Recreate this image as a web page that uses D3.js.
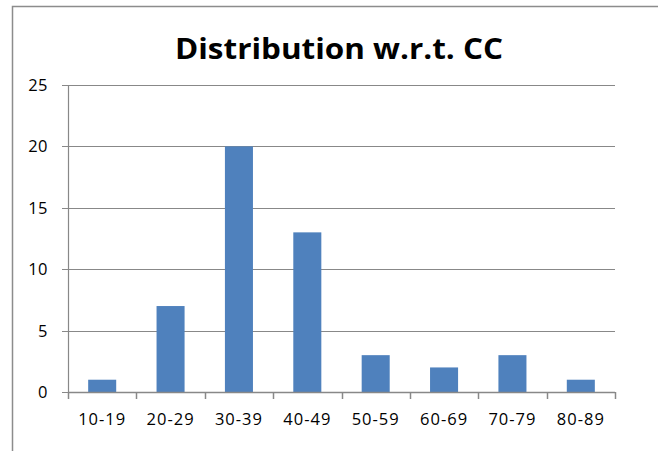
<html>

<head>
    <style>
        body { margin: 0; background: white; }
        text { font-family: "Open Sans", sans-serif; fill: black; }
    </style>
</head>

<body>
    <svg id="container" height="451" width="658"></svg>
</body>
<script src="https://cdn.jsdelivr.net/npm/d3@7"></script>
<script>
    let categories = ["10-19", "20-29", "30-39", "40-49", "50-59", "60-69", "70-79", "80-89"]
    let counts = [1, 7, 20, 13, 3, 2, 3, 1]
    let yTicks = [0, 5, 10, 15, 20, 25]
    let title = "Distribution w.r.t. CC"

    let svg = d3.select("#container")

    // outer chart border (runs off the right and bottom edges)
    svg.append("rect")
        .attr("x", 12.5).attr("y", 6.5)
        .attr("width", 700).attr("height", 500)
        .attr("fill", "none")
        .attr("stroke", "#8c8c8c")
        .attr("stroke-width", 1.5)

    let plotLeft = 68, plotRight = 615, plotTop = 85, plotBottom = 392

    let x = d3.scaleBand()
        .domain(categories)
        .range([plotLeft, plotRight])
        .paddingInner(0.59)
        .paddingOuter(0.295)

    let y = d3.scaleLinear()
        .domain([0, 25])
        .range([plotBottom, plotTop])

    // gridlines
    svg.append("g")
        .selectAll("line")
        .data(yTicks)
        .enter()
        .append("line")
        .attr("x1", plotLeft - 6)
        .attr("x2", plotRight)
        .attr("y1", d => Math.round(y(d)) + 0.5)
        .attr("y2", d => Math.round(y(d)) + 0.5)
        .attr("stroke", "#888888")
        .attr("stroke-width", 1.2)

    // bars
    svg.append("g")
        .selectAll("rect")
        .data(counts)
        .enter()
        .append("rect")
        .attr("x", (d, i) => x(categories[i]))
        .attr("width", x.bandwidth())
        .attr("y", d => y(d))
        .attr("height", d => y(0) - y(d))
        .attr("fill", "#4f81bd")

    // y axis line
    svg.append("line")
        .attr("x1", plotLeft + 0.5).attr("x2", plotLeft + 0.5)
        .attr("y1", plotTop).attr("y2", plotBottom)
        .attr("stroke", "#888888")
        .attr("stroke-width", 1.2)

    // x axis with tick marks between categories
    let step = (plotRight - plotLeft) / categories.length
    let xTickPos = d3.range(categories.length + 1).map(i => plotLeft + i * step)
    svg.append("line")
        .attr("x1", plotLeft).attr("x2", plotRight)
        .attr("y1", plotBottom + 0.5).attr("y2", plotBottom + 0.5)
        .attr("stroke", "#888888")
        .attr("stroke-width", 1.5)
    svg.append("g")
        .selectAll("line")
        .data(xTickPos)
        .enter()
        .append("line")
        .attr("x1", d => Math.round(d) + 0.5)
        .attr("x2", d => Math.round(d) + 0.5)
        .attr("y1", plotBottom)
        .attr("y2", plotBottom + 7)
        .attr("stroke", "#888888")
        .attr("stroke-width", 1.5)

    // y labels
    svg.append("g")
        .selectAll("text")
        .data(yTicks)
        .enter()
        .append("text")
        .attr("x", 48)
        .attr("y", d => y(d) + 6)
        .attr("text-anchor", "end")
        .style("font-size", "16.5px")
        .style("letter-spacing", "0.5px")
        .text(d => d)

    // x labels
    svg.append("g")
        .selectAll("text")
        .data(categories)
        .enter()
        .append("text")
        .attr("x", d => x(d) + x.bandwidth() / 2)
        .attr("y", 425)
        .attr("text-anchor", "middle")
        .style("font-size", "16.5px")
        .style("letter-spacing", "1px")
        .text(d => d)

    // title
    svg.append("text")
        .attr("x", 339)
        .attr("y", 59)
        .attr("text-anchor", "middle")
        .attr("textLength", 328)
        .attr("lengthAdjust", "spacingAndGlyphs")
        .style("font-size", "29px")
        .style("font-weight", "bold")
        .text(title)
</script>

</html>
